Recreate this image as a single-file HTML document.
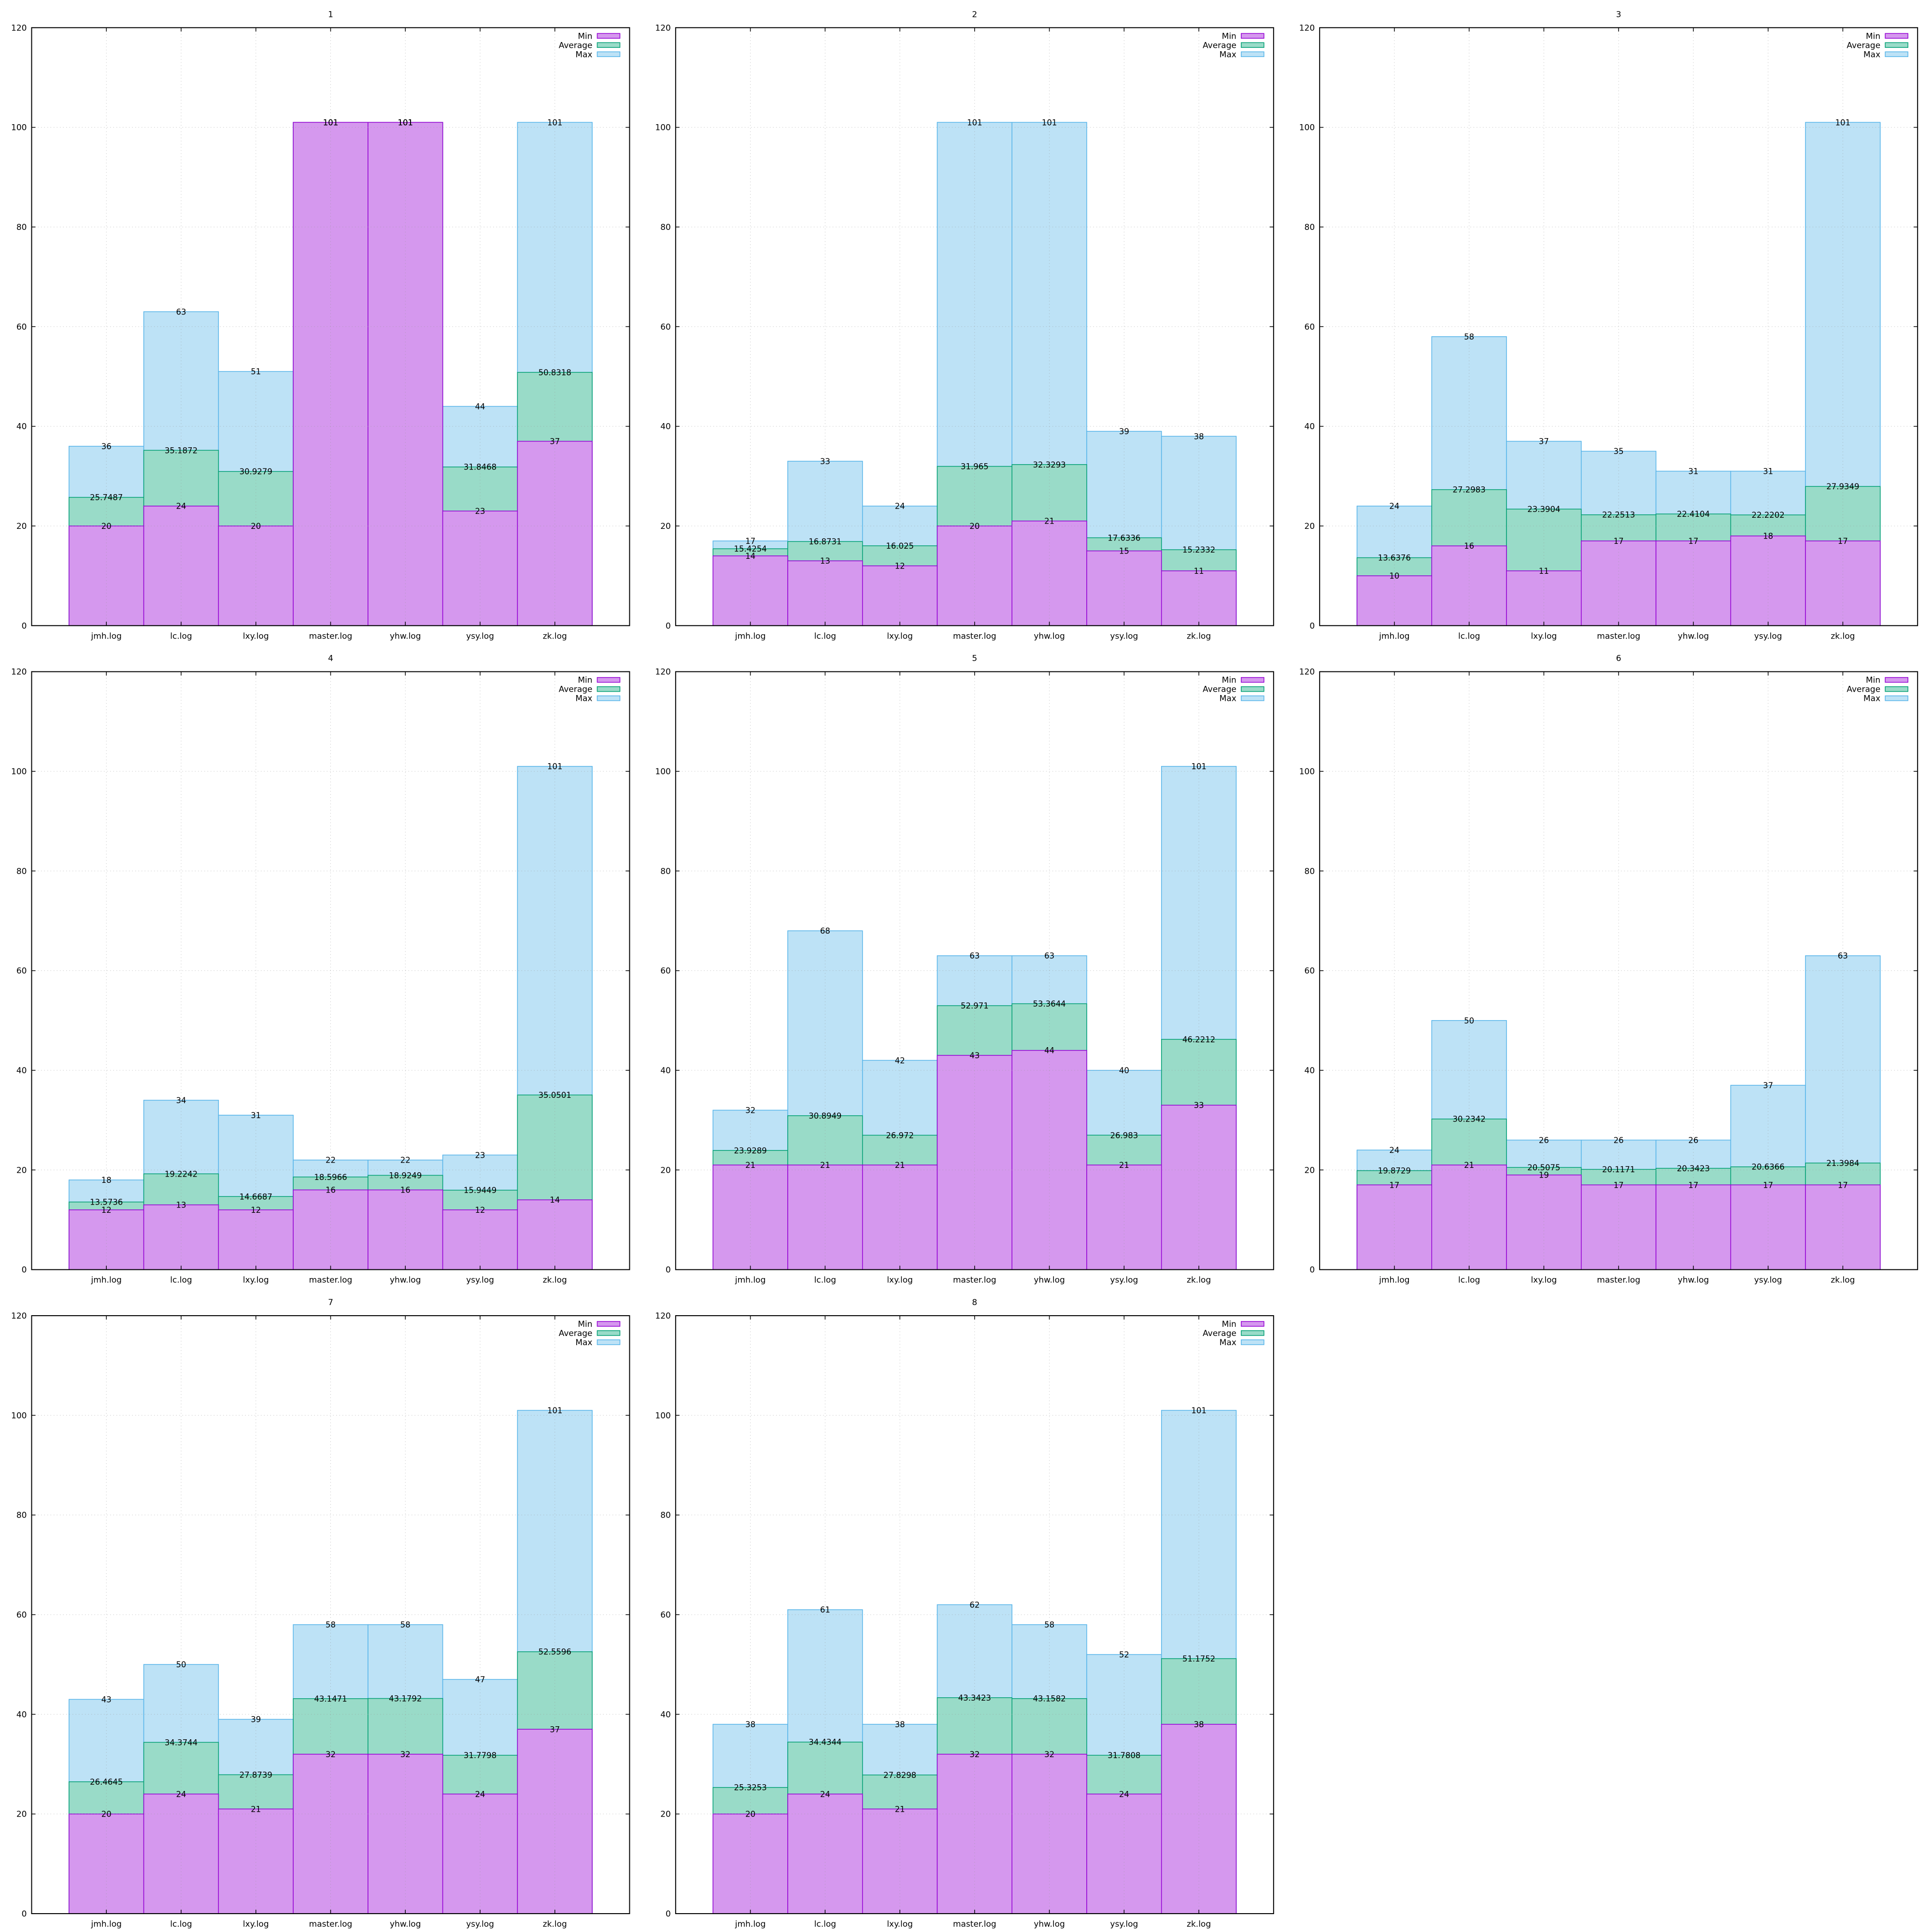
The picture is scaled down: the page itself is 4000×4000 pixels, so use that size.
<!DOCTYPE html>
<html><head><meta charset="utf-8"><style>
html,body{margin:0;padding:0;background:#fff;}
svg{display:block;font-family:"DejaVu Sans","Liberation Sans",sans-serif;}
</style></head><body>
<svg id="chart" width="4000" height="4000" viewBox="0 0 4000 4000" xmlns="http://www.w3.org/2000/svg"></svg>
<script>
const categories = ["jmh.log","lc.log","lxy.log","master.log","yhw.log","ysy.log","zk.log"];
const panelTitles = ["1","2","3","4","5","6","7","8"];
const minVals = [
 [20,24,20,101,101,23,37],
 [14,13,12,20,21,15,11],
 [10,16,11,17,17,18,17],
 [12,13,12,16,16,12,14],
 [21,21,21,43,44,21,33],
 [17,21,19,17,17,17,17],
 [20,24,21,32,32,24,37],
 [20,24,21,32,32,24,38]
];
const avgVals = [
 [25.7487,35.1872,30.9279,101,101,31.8468,50.8318],
 [15.4254,16.8731,16.025,31.965,32.3293,17.6336,15.2332],
 [13.6376,27.2983,23.3904,22.2513,22.4104,22.2202,27.9349],
 [13.5736,19.2242,14.6687,18.5966,18.9249,15.9449,35.0501],
 [23.9289,30.8949,26.972,52.971,53.3644,26.983,46.2212],
 [19.8729,30.2342,20.5075,20.1171,20.3423,20.6366,21.3984],
 [26.4645,34.3744,27.8739,43.1471,43.1792,31.7798,52.5596],
 [25.3253,34.4344,27.8298,43.3423,43.1582,31.7808,51.1752]
];
const maxVals = [
 [36,63,51,101,101,44,101],
 [17,33,24,101,101,39,38],
 [24,58,37,35,31,31,101],
 [18,34,31,22,22,23,101],
 [32,68,42,63,63,40,101],
 [24,50,26,26,26,37,63],
 [43,50,39,58,58,47,101],
 [38,61,38,62,58,52,101]
];
const yTicks = [0,20,40,60,80,100,120];
const seriesNames = ["Min","Average","Max"];

const NS="http://www.w3.org/2000/svg";
const svg=document.getElementById('chart');
function mk(tag,attrs,parent){const e=document.createElementNS(NS,tag);for(const k in attrs)e.setAttribute(k,attrs[k]);parent.appendChild(e);return e;}
const styles={
 Min:{fill:"#d598ee",stroke:"#9400d3"},
 Average:{fill:"#99dbc8",stroke:"#009e73"},
 Max:{fill:"#bde2f6",stroke:"#56b4e9"}
};
const PW=1238, PH=1238, L0=65.5, T0=57.3, STEP=4000/3;

for(let p=0;p<panelTitles.length;p++){
 const col=p%3,row=Math.floor(p/3);
 const L=L0+col*STEP, T=T0+row*STEP, B=T+PH, R=L+PW;
 const xs=v=>L+(v+1)*PW/8;
 const ys=v=>B-v*PH/120;
 const g=mk('g',{},svg);
 
 
 const t=mk('text',{x:(L+R)/2,y:T-22,'text-anchor':'middle','font-size':17},g);
 t.textContent=panelTitles[p];
 
 
 const series=[["Max",maxVals[p]],["Average",avgVals[p]],["Min",minVals[p]]];
 for(const [name,vals] of series){
  const sg=mk('g',{},g);
  
  
  vals.forEach((v,i)=>{
   const x0=xs(i-0.5),x1=xs(i+0.5),y=ys(v);
   const r=mk('rect',{x:x0,y:y,width:x1-x0,height:B-y,fill:styles[name].fill,stroke:styles[name].stroke,'stroke-width':1.5},sg);
   
   
  });
 }
 const gg=mk('g',{stroke:"#999",'stroke-width':1,'stroke-dasharray':'1.5,5','stroke-opacity':0.6},g);
 
 
 yTicks.forEach(v=>{ if(v>0&&v<120) mk('line',{x1:L,x2:R,y1:ys(v),y2:ys(v)},gg); });
 categories.forEach((c,i)=>mk('line',{x1:xs(i),x2:xs(i),y1:T,y2:B},gg));
 for(const [name,vals] of series){
  vals.forEach((v,i)=>{
   const tx=mk('text',{x:xs(i),y:ys(v)+6,'text-anchor':'middle','font-size':16.5},g);
   tx.textContent=String(v);
   
   
  });
 }
 const bd=mk('rect',{x:L,y:T,width:PW,height:PH,fill:'none',stroke:'#000','stroke-width':2},g);
 
 
 yTicks.forEach(v=>{
  mk('line',{x1:L,x2:L+8,y1:ys(v),y2:ys(v),stroke:'#000','stroke-width':1.5},g);
  mk('line',{x1:R,x2:R-8,y1:ys(v),y2:ys(v),stroke:'#000','stroke-width':1.5},g);
  const tl=mk('text',{x:L-10,y:ys(v)+6,'text-anchor':'end','font-size':17},g);
  tl.textContent=String(v);
  
  
 });
 categories.forEach((c,i)=>{
  mk('line',{x1:xs(i),x2:xs(i),y1:B,y2:B-8,stroke:'#000','stroke-width':1.5},g);
  mk('line',{x1:xs(i),x2:xs(i),y1:T,y2:T+8,stroke:'#000','stroke-width':1.5},g);
  const xl=mk('text',{x:xs(i),y:B+27,'text-anchor':'middle','font-size':17},g);
  xl.textContent=c;
  
  
 });
 const lg=mk('g',{},g);
 
 
 seriesNames.forEach((n,k)=>{
  const cy=T+17+k*19;
  const lt=mk('text',{x:R-77,y:cy+6,'text-anchor':'end','font-size':17},lg);
  lt.textContent=n;
  
  
  mk('rect',{x:R-67,y:cy-5,width:47,height:10,fill:styles[n].fill,stroke:styles[n].stroke,'stroke-width':1.5},lg);
 });
}
</script>
</body></html>
